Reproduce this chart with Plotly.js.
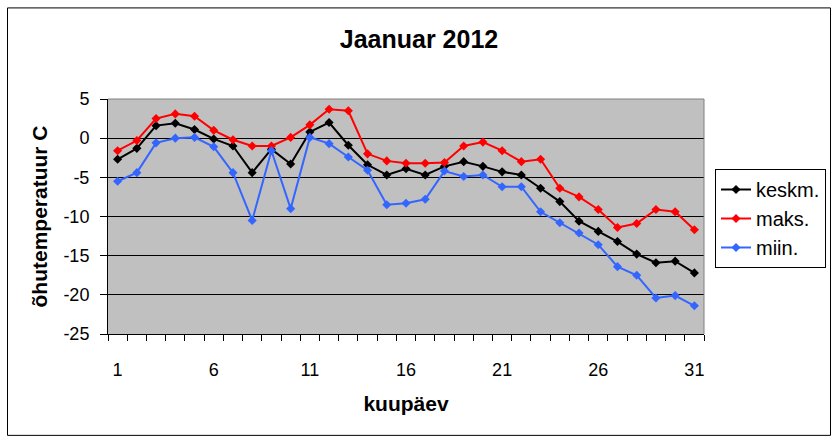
<!DOCTYPE html>
<html>
<head>
<meta charset="utf-8">
<script src="https://cdn.plot.ly/plotly-3.0.1.min.js"></script>
<style>
html,body{margin:0;padding:0;background:#fff;}
#chart{width:838px;height:441px;}
</style>
</head>
<body>
<div id="chart"></div>
<script>
var days = [1,2,3,4,5,6,7,8,9,10,11,12,13,14,15,16,17,18,19,20,21,22,23,24,25,26,27,28,29,30,31];
var keskm = [-2.7,-1.3,1.6,1.9,1.1,-0.1,-1.0,-4.4,-1.4,-3.3,0.8,2.0,-0.9,-3.4,-4.7,-3.9,-4.7,-3.6,-3.0,-3.6,-4.3,-4.7,-6.4,-8.1,-10.6,-11.9,-13.2,-14.8,-15.9,-15.7,-17.2];
var maks = [-1.6,-0.3,2.5,3.1,2.8,1.0,-0.2,-1.0,-1.0,0.1,1.7,3.7,3.5,-2.0,-2.9,-3.2,-3.2,-3.1,-1.0,-0.5,-1.6,-3.0,-2.7,-6.4,-7.5,-9.1,-11.4,-10.9,-9.1,-9.4,-11.7];
var miin = [-5.5,-4.4,-0.6,0.0,0.1,-1.1,-4.4,-10.5,-1.6,-9.0,0.1,-0.7,-2.4,-4.1,-8.5,-8.3,-7.8,-4.2,-4.9,-4.7,-6.2,-6.2,-9.4,-10.8,-12.1,-13.6,-16.4,-17.5,-20.4,-20.1,-21.4];
var xTickVals = [1,6,11,16,21,26,31];
var xTickText = ['1','6','11','16','21','26','31'];
var yTickVals = [5,0,-5,-10,-15,-20,-25];
var yTickText = ['5','0','-5','-10','-15','-20','-25'];

function tr(name, y, color){
  return {x: days, y: y, name: name, type:'scatter', mode:'lines+markers',
    line:{color:color, width:2}, marker:{symbol:'diamond', size:7, color:color}};
}
var data = [tr('keskm.', keskm, '#000000'), tr('maks.', maks, '#FF0000'), tr('miin.', miin, '#3366FF')];

var L=108, R=704, T=98.7, B=334, W=838, H=441;
var pw=R-L, ph=B-T;
function px(x){return (x-L)/pw;}
function py(y){return (B-y)/ph;}

var layout = {
  width:W, height:H,
  margin:{l:L, r:W-R, t:T, b:H-B, pad:0},
  paper_bgcolor:'#ffffff', plot_bgcolor:'#C0C0C0',
  font:{family:'Liberation Sans, Arial, sans-serif', color:'#000', size:18},
  title:{text:'<b>Jaanuar 2012</b>', font:{size:25, family:'Liberation Sans, Arial, sans-serif'}, x:(419)/W, xanchor:'center', y:1-39/H, yanchor:'middle', xref:'container', yref:'container'},
  showlegend:true,
  legend:{xref:'container', yref:'container', x:715/W, y:1-169/H, xanchor:'left', yanchor:'top',
    bgcolor:'#ffffff', bordercolor:'#000000', borderwidth:1, font:{size:20}, tracegroupgap:0},
  xaxis:{range:[0.5,31.5], tickvals:xTickVals, ticktext:xTickText, ticks:'', showgrid:false, zeroline:false,
    showline:true, linecolor:'#000', linewidth:1, ticklabelstandoff:19,
    minor:{tick0:0.5, dtick:1, ticks:'outside', ticklen:6, tickcolor:'#000', tickwidth:1, showgrid:false},
    title:{text:'<b>kuupäev</b>', font:{size:21}, standoff:17}, automargin:false, fixedrange:true},
  yaxis:{range:[-25,5], tickvals:yTickVals, ticktext:yTickText, ticks:'outside', ticklen:7, tickcolor:'#000', tickwidth:1,
    showgrid:true, gridcolor:'#000', gridwidth:1, zeroline:false, showline:true, linecolor:'#000', linewidth:1,
    ticklabelstandoff:7,
    title:{text:'<b>õhutemperatuur C</b>', font:{size:21}, standoff:10}, automargin:false, fixedrange:true},
  shapes:[
    {type:'line', xref:'paper', yref:'paper', x0:0, x1:1, y0:1, y1:1, line:{color:'#808080', width:1}},
    {type:'line', xref:'paper', yref:'paper', x0:1, x1:1, y0:0, y1:1, line:{color:'#808080', width:1}},
    {type:'rect', xref:'paper', yref:'paper', x0:px(7.5), x1:px(830.5), y0:py(435.5), y1:py(7.5), line:{color:'#000', width:1}, fillcolor:'rgba(0,0,0,0)'}
  ]
};
Plotly.newPlot('chart', data, layout, {displayModeBar:false, staticPlot:true});
</script>
</body>
</html>
